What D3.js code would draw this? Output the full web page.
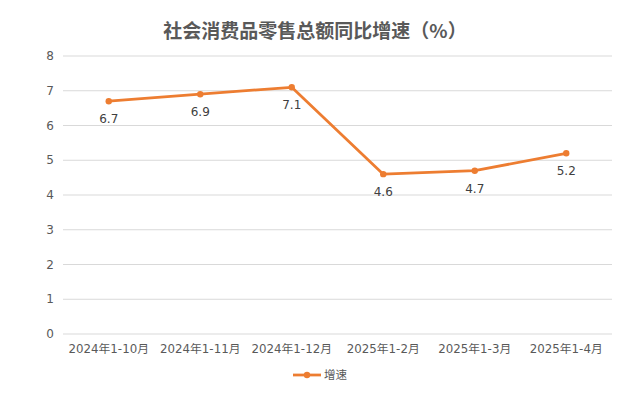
<!DOCTYPE html>
<html>
<head>
<meta charset="utf-8">
<script src="https://cdn.jsdelivr.net/npm/d3@7"></script>
<style>
  body { margin: 0; background: #fff; }
  text { font-family: "DejaVu Sans", "Noto Sans CJK SC", sans-serif; }
  .title { font-family: "Noto Sans CJK SC", sans-serif; }
</style>
</head>
<body>
<svg id="chart" width="637" height="407"></svg>
<script>
const categories = ["2024年1-10月", "2024年1-11月", "2024年1-12月", "2025年1-2月", "2025年1-3月", "2025年1-4月"];
const growth = [6.7, 6.9, 7.1, 4.6, 4.7, 5.2];
const yTicks = [0, 1, 2, 3, 4, 5, 6, 7, 8];
const seriesName = "增速";
const title = "社会消费品零售总额同比增速（%）";

const svg = d3.select("#chart");
const margin = { left: 63, right: 25, top: 56, bottom: 73 };
const width = 637, height = 407;
const color = "#ED7D31";

const x = d3.scaleBand().domain(categories).range([margin.left, width - margin.right]);
const y = d3.scaleLinear().domain([0, 8]).range([height - margin.bottom, margin.top]);

svg.append("text")
  .attr("class", "title")
  .attr("x", 315).attr("y", 38)
  .attr("text-anchor", "middle")
  .attr("font-size", 19).attr("font-weight", "bold")
  .attr("fill", "#595959")
  .text(title);

// grid
svg.selectAll(".grid")
  .data(yTicks)
  .enter()
  .append("line")
  .attr("x1", margin.left).attr("x2", width - margin.right)
  .attr("y1", d => y(d)).attr("y2", d => y(d))
  .attr("stroke", "#d9d9d9").attr("stroke-width", 1);

svg.selectAll(".ytick")
  .data(yTicks)
  .enter()
  .append("text")
  .attr("x", 54).attr("y", d => y(d) + 4)
  .attr("text-anchor", "end")
  .attr("font-size", 12).attr("fill", "#595959")
  .text(d => d);

svg.selectAll(".xtick")
  .data(categories)
  .enter()
  .append("text")
  .attr("x", d => x(d) + x.bandwidth() / 2)
  .attr("y", y(0) + 19)
  .attr("text-anchor", "middle")
  .attr("font-size", 11.8).attr("fill", "#595959")
  .text(d => d);

const pts = categories.map((c, i) => [x(c) + x.bandwidth() / 2, y(growth[i])]);

svg.append("path")
  .attr("d", d3.line()(pts))
  .attr("fill", "none")
  .attr("stroke", color)
  .attr("stroke-width", 2.75)
  .attr("stroke-linejoin", "round");

svg.selectAll(".dot")
  .data(pts)
  .enter()
  .append("circle")
  .attr("cx", d => d[0]).attr("cy", d => d[1])
  .attr("r", 3.2).attr("fill", color);

svg.selectAll(".lbl")
  .data(pts)
  .enter()
  .append("text")
  .attr("x", d => d[0]).attr("y", d => d[1] + 22)
  .attr("text-anchor", "middle")
  .attr("font-size", 12).attr("fill", "#404040")
  .text((d, i) => growth[i].toFixed(1));

// legend
const lg = svg.append("g").attr("transform", "translate(293,375)");
lg.append("line").attr("x1", 0).attr("x2", 28).attr("y1", 0).attr("y2", 0)
  .attr("stroke", color).attr("stroke-width", 2.75);
lg.append("circle").attr("cx", 14).attr("cy", 0).attr("r", 3.2).attr("fill", color);
lg.append("text").attr("x", 31).attr("y", 4)
  .attr("font-size", 11.5).attr("fill", "#595959")
  .text(seriesName);
</script>
</body>
</html>
